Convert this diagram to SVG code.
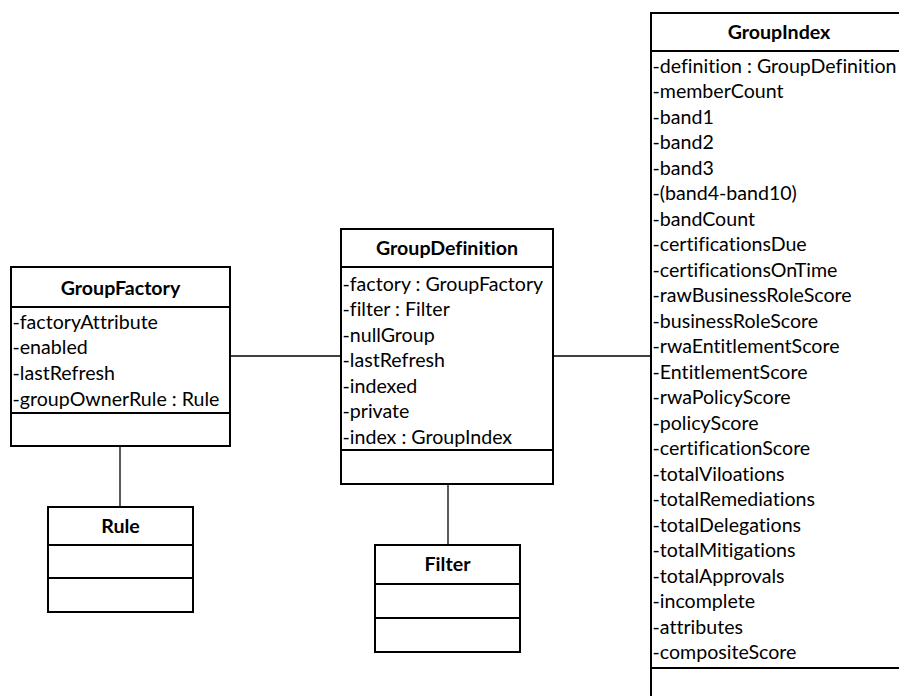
<svg xmlns="http://www.w3.org/2000/svg" width="899" height="696" viewBox="0 0 899 696">
  <style>
    .box { fill: #ffffff; stroke: #000000; stroke-width: 2; }
    .div { stroke: #000000; stroke-width: 2; fill: none; }
    .link { stroke: #000000; stroke-width: 1.3; fill: none; }
    text { font-family: Lato, "Open Sans", sans-serif; font-size: 19.6px; fill: #000000; font-variant-ligatures: none; }
    .title { font-weight: bold; text-anchor: middle; }
  </style>

  <!-- associations -->
  <g id="connectors">
    <line class="link" x1="230" y1="356" x2="341" y2="356"/>
    <line class="link" x1="553" y1="356" x2="651" y2="356"/>
    <line class="link" x1="120" y1="446" x2="120" y2="507"/>
    <line class="link" x1="448" y1="484" x2="448" y2="545"/>
  </g>

  <g id="GroupFactory">
    <rect class="box" x="11" y="267" width="219" height="179"/>
    <line class="div" x1="11" y1="307" x2="230" y2="307"/>
    <line class="div" x1="11" y1="413" x2="230" y2="413"/>
    <text class="title" x="120.5" y="294.5">GroupFactory</text>
    <text x="12.5" y="328.5">-factoryAttribute</text>
    <text x="12.5" y="354.2">-enabled</text>
    <text x="12.5" y="379.9">-lastRefresh</text>
    <text x="12.5" y="405.6">-groupOwnerRule : Rule</text>
  </g>

  <g id="Rule">
    <rect class="box" x="48" y="507" width="145" height="105"/>
    <line class="div" x1="48" y1="545" x2="193" y2="545"/>
    <line class="div" x1="48" y1="578" x2="193" y2="578"/>
    <text class="title" x="120.5" y="533">Rule</text>
  </g>

  <g id="GroupDefinition">
    <rect class="box" x="341" y="229" width="212" height="255"/>
    <line class="div" x1="341" y1="267" x2="553" y2="267"/>
    <line class="div" x1="341" y1="450" x2="553" y2="450"/>
    <text class="title" x="447" y="255">GroupDefinition</text>
    <text x="342.5" y="290.5">-factory : GroupFactory</text>
    <text x="342.5" y="316">-filter : Filter</text>
    <text x="342.5" y="341.5">-nullGroup</text>
    <text x="342.5" y="367">-lastRefresh</text>
    <text x="342.5" y="392.5">-indexed</text>
    <text x="342.5" y="418">-private</text>
    <text x="342.5" y="443.5">-index : GroupIndex</text>
  </g>

  <g id="Filter">
    <rect class="box" x="375" y="545" width="145" height="107"/>
    <line class="div" x1="375" y1="584" x2="520" y2="584"/>
    <line class="div" x1="375" y1="618" x2="520" y2="618"/>
    <text class="title" x="447.5" y="571">Filter</text>
  </g>

  <g id="GroupIndex">
    <rect class="box" x="651" y="13" width="260" height="700"/>
    <line class="div" x1="651" y1="51" x2="911" y2="51"/>
    <line class="div" x1="651" y1="668" x2="911" y2="668"/>
    <text class="title" x="779" y="38.5">GroupIndex</text>
    <text x="652.5" y="72.5">-definition : GroupDefinition</text>
    <text x="652.5" y="98">-memberCount</text>
    <text x="652.5" y="123.5">-band1</text>
    <text x="652.5" y="149">-band2</text>
    <text x="652.5" y="174.5">-band3</text>
    <text x="652.5" y="200">-(band4-band10)</text>
    <text x="652.5" y="225.5">-bandCount</text>
    <text x="652.5" y="251">-certificationsDue</text>
    <text x="652.5" y="276.5">-certificationsOnTime</text>
    <text x="652.5" y="302">-rawBusinessRoleScore</text>
    <text x="652.5" y="327.5">-businessRoleScore</text>
    <text x="652.5" y="353">-rwaEntitlementScore</text>
    <text x="652.5" y="378.5">-EntitlementScore</text>
    <text x="652.5" y="404">-rwaPolicyScore</text>
    <text x="652.5" y="429.5">-policyScore</text>
    <text x="652.5" y="455">-certificationScore</text>
    <text x="652.5" y="480.5">-totalViloations</text>
    <text x="652.5" y="506">-totalRemediations</text>
    <text x="652.5" y="531.5">-totalDelegations</text>
    <text x="652.5" y="557">-totalMitigations</text>
    <text x="652.5" y="582.5">-totalApprovals</text>
    <text x="652.5" y="608">-incomplete</text>
    <text x="652.5" y="633.5">-attributes</text>
    <text x="652.5" y="659">-compositeScore</text>
  </g>
</svg>
